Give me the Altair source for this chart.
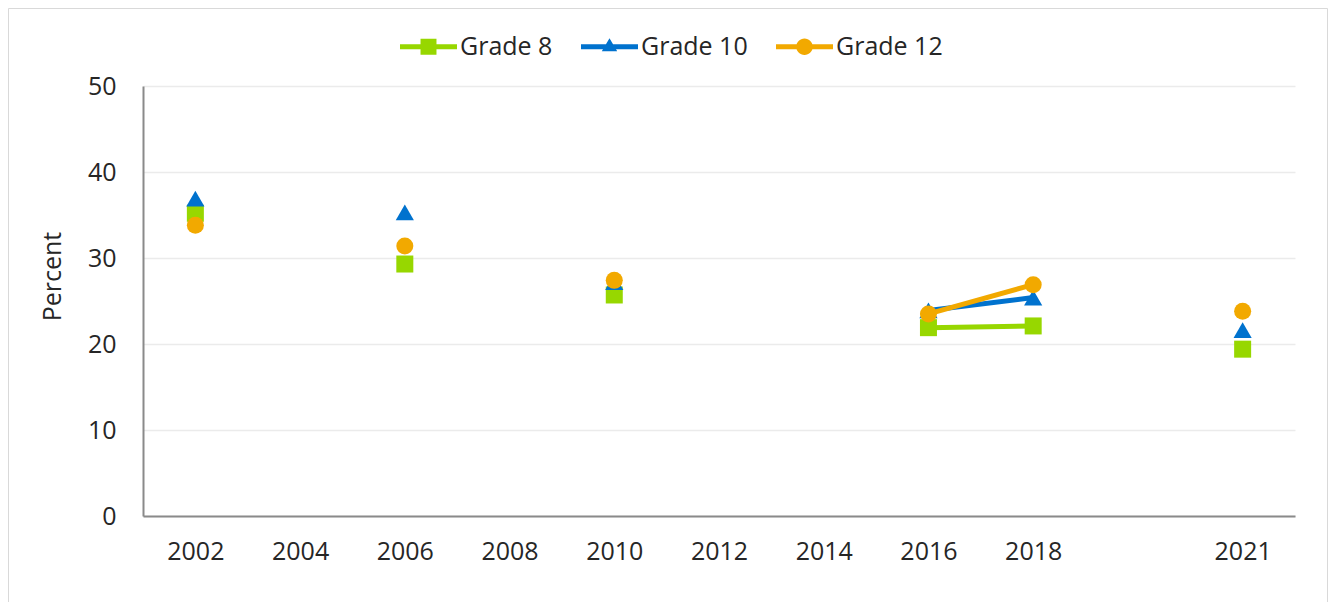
import altair as alt
import pandas as pd

# ---- data ----
x_slots = ["2002", "2004", "2006", "2008", "2010", "2012", "2014", "2016", "2018", "2020", "2021"]
years = ["2002", "2006", "2010", "2016", "2018", "2021"]
grades = ["Grade 8", "Grade 10", "Grade 12"]
grade8 = [35.2, 29.3, 25.7, 21.9, 22.1, 19.4]
grade10 = [36.9, 35.3, 27.2, 23.9, 25.4, 21.6]
grade12 = [33.8, 31.4, 27.4, 23.5, 26.9, 23.8]
line_years = ["2016", "2018"]
y_ticks = [0, 10, 20, 30, 40, 50]

# ---- styles ----
colors = ["#97D700", "#0072CE", "#F2A900"]
marker_shapes = ["square", "triangle-up", "circle"]
marker_sizes = [289, 330, 290]
legend_paths = [
    "M-1,-0.09H1V0.09H-1Z M-0.28,-0.28H0.28V0.28H-0.28Z",
    "M-1,-0.09H1V0.09H-1Z M0,-0.3L0.27,0.16L-0.27,0.16Z",
    "M-1,-0.09H1V0.09H-1Z M-0.29,0A0.29,0.29 0 1,1 0.29,0A0.29,0.29 0 1,1 -0.29,0Z",
]
FONT = "Open Sans"
FS = 25
TXT = "#262626"

rows = []
for g, vals in zip(grades, [grade8, grade10, grade12]):
    for yr, v in zip(years, vals):
        rows.append({"year": yr, "grade": g, "value": v})
df = pd.DataFrame(rows)

x_enc = alt.X(
    "year:O",
    scale=alt.Scale(type="point", domain=x_slots, padding=0.5),
    axis=alt.Axis(
        title=None,
        labelExpr="datum.value == '2020' ? '' : datum.value",
        labelAngle=0,
        ticks=False,
        labelPadding=23,
        labelFontSize=FS,
        labelFont=FONT,
        labelColor=TXT,
        domainColor="#8a8a8a",
        domainWidth=2,
        grid=False,
    ),
)
y_enc = alt.Y(
    "value:Q",
    scale=alt.Scale(domain=[0, 50], nice=False),
    axis=alt.Axis(
        values=y_ticks,
        title="Percent",
        titleFont=FONT,
        titleFontSize=FS,
        titleFontWeight="normal",
        titleColor=TXT,
        titleAngle=270,
        titleAlign="center",
        titleBaseline="middle",
        titleX=-91,
        titleY=190,
        ticks=False,
        labelPadding=27,
        labelFontSize=FS,
        labelFont=FONT,
        labelColor=TXT,
        domainColor="#8a8a8a",
        domainWidth=2,
        grid=True,
        gridColor="#ebebeb",
        gridWidth=1.5,
    ),
)

base = alt.Chart(df)
layers = []
for g, c, s, sz in zip(grades, colors, marker_shapes, marker_sizes):
    sub = base.transform_filter(alt.datum.grade == g)
    line = (
        sub.transform_filter(alt.FieldOneOfPredicate(field="year", oneOf=line_years))
        .mark_line(color=c, strokeWidth=5)
        .encode(x=x_enc, y=y_enc)
    )
    pts = sub.mark_point(shape=s, filled=True, color=c, size=sz, opacity=1).encode(
        x=x_enc, y=y_enc
    )
    layers += [line, pts]

leg = alt.Legend(
    title=None,
    orient="none",
    direction="horizontal",
    legendX=257,
    legendY=-68,
    symbolSize=3249,
    symbolStrokeWidth=0,
    labelFont=FONT,
    labelFontSize=FS,
    labelColor=TXT,
    labelOffset=3,
    columnPadding=28,
)
legend_layer = (
    base.transform_filter("false")
    .mark_point(filled=True, opacity=1)
    .encode(
        color=alt.Color("grade:N", scale=alt.Scale(domain=grades, range=colors), legend=leg),
        shape=alt.Shape("grade:N", scale=alt.Scale(domain=grades, range=legend_paths), legend=leg),
    )
)

frame_df = pd.DataFrame({"k": [0]})
frame_col = "#d9d9d9"
frame = alt.Chart(frame_df)
top_rule = frame.mark_rule(color=frame_col, strokeWidth=1).encode(
    x=alt.value(-134.5), x2=alt.value(1184.5), y=alt.value(-77.5)
)
left_rule = frame.mark_rule(color=frame_col, strokeWidth=1).encode(
    x=alt.value(-134.5), y=alt.value(-77.5), y2=alt.value(516)
)
right_rule = frame.mark_rule(color=frame_col, strokeWidth=1).encode(
    x=alt.value(1184.5), y=alt.value(-77.5), y2=alt.value(516)
)

chart = (
    alt.layer(*layers, legend_layer, top_rule, left_rule, right_rule)
    .properties(
        width=1152,
        height=430,
        autosize=alt.AutoSizeParams(type="none"),
        padding={"left": 135, "top": 78, "right": 33, "bottom": 86},
        background="white",
    )
    .configure_view(stroke=None)
)

chart.save("out.html", embed_options={"renderer": "svg", "actions": False})
